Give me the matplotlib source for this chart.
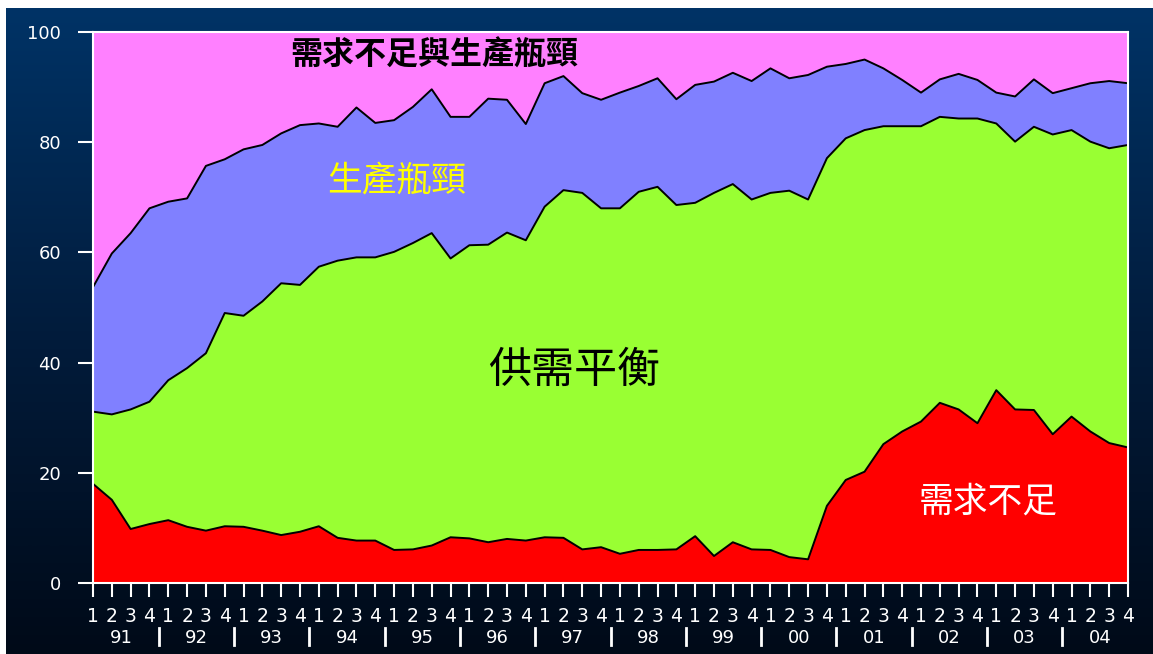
import numpy as np
import matplotlib.pyplot as plt
from matplotlib.colors import LinearSegmentedColormap

plt.rcParams['font.family'] = ['DejaVu Sans']
CJK = ['Noto Sans CJK TC', 'DejaVu Sans']

years = ['91', '92', '93', '94', '95', '96', '97', '98', '99', '00', '01', '02', '03', '04']
quarters = ['1', '2', '3', '4']

# 各季比重 (%)
demand_short = [18.0, 15.1, 9.8, 10.7, 11.4, 10.2, 9.5, 10.3, 10.2, 9.5,
                8.7, 9.3, 10.3, 8.2, 7.7, 7.7, 6.0, 6.1, 6.8, 8.3,
                8.1, 7.4, 8.0, 7.7, 8.3, 8.2, 6.1, 6.5, 5.3, 6.0,
                6.0, 6.1, 8.5, 4.9, 7.4, 6.1, 6.0, 4.7, 4.3, 14.0,
                18.7, 20.2, 25.2, 27.5, 29.3, 32.7, 31.5, 29.0, 35.0, 31.5,
                31.4, 27.0, 30.2, 27.5, 25.4, 24.6]
balanced = [13.1, 15.5, 21.7, 22.2, 25.4, 28.8, 32.2, 38.7, 38.3, 41.6,
            45.7, 44.8, 47.1, 50.3, 51.4, 51.4, 54.1, 55.6, 56.7, 50.6,
            53.2, 54.0, 55.6, 54.5, 60.0, 63.1, 64.7, 61.5, 62.7, 65.0,
            65.9, 62.5, 60.5, 65.9, 65.0, 63.5, 64.8, 66.5, 65.3, 63.1,
            62.0, 62.0, 57.7, 55.4, 53.6, 51.9, 52.8, 55.3, 48.4, 48.6,
            51.4, 54.4, 52.0, 52.6, 53.5, 54.9]
bottleneck = [22.6, 29.2, 32.0, 35.1, 32.4, 30.8, 34.0, 27.9, 30.2, 28.4,
              27.2, 29.0, 26.0, 24.3, 27.2, 24.4, 23.9, 24.7, 26.1, 25.7,
              23.3, 26.5, 24.1, 21.1, 22.4, 20.7, 18.1, 19.7, 21.0, 19.2,
              19.7, 19.2, 21.4, 20.2, 20.2, 21.5, 22.6, 20.4, 22.6, 16.6,
              13.5, 12.8, 10.5, 8.4, 6.1, 6.8, 8.1, 7.0, 5.6, 8.2,
              8.6, 7.5, 7.6, 10.6, 12.2, 11.2]
both = [46.3, 40.2, 36.5, 32.0, 30.8, 30.2, 24.3, 23.1, 21.3, 20.5,
        18.4, 16.9, 16.6, 17.2, 13.7, 16.5, 16.0, 13.6, 10.4, 15.4,
        15.4, 12.1, 12.3, 16.7, 9.3, 8.0, 11.1, 12.3, 11.0, 9.8,
        8.4, 12.2, 9.6, 9.0, 7.4, 8.9, 6.6, 8.4, 7.8, 6.3,
        5.8, 5.0, 6.6, 8.7, 11.0, 8.6, 7.6, 8.7, 11.0, 11.7,
        8.6, 11.1, 10.2, 9.3, 8.9, 9.3]

colors = ['#ff0000', '#99ff33', '#8080ff', '#ff80ff']

fig = plt.figure(figsize=(11.53, 6.54), dpi=100, facecolor='white')

# 深藍漸層背景
bg = fig.add_axes([6 / 1153, 0, 1 - 6 / 1153, 646 / 654])
cmap = LinearSegmentedColormap.from_list('bg', ['#000a18', '#021c3c', '#003366'])
bg.imshow(np.linspace(0, 1, 256).reshape(-1, 1), cmap=cmap, aspect='auto',
          origin='lower', extent=[0, 1, 0, 1])
bg.axis('off')

ax = fig.add_axes([93 / 1153, 71 / 654, 1035 / 1153, 551 / 654])
x = np.arange(len(demand_short))
layers = np.vstack([demand_short, balanced, bottleneck, both])
ax.stackplot(x, layers, colors=colors, linewidth=0)
tops = np.cumsum(layers, axis=0)
for row in tops[:3]:
    ax.plot(x, row, color='black', lw=1.4)

ax.set_xlim(0, len(x) - 1)
ax.set_ylim(0, 100)
ax.set_yticks(np.arange(0, 101, 20))
ax.set_xticks(x)
ax.set_xticklabels(quarters * len(years))
for s in ax.spines.values():
    s.set_color('white')
    s.set_linewidth(1.5)
ax.tick_params(axis='y', colors='white', length=11, width=1.5, pad=12, labelsize=13)
ax.tick_params(axis='x', colors='white', length=10, width=1.5, pad=7, labelsize=13.5)

# 年份與分隔線
trans = ax.get_xaxis_transform()
for k, yr in enumerate(years):
    ax.text(4 * k + 1.5, -0.10, yr, transform=trans, ha='center', va='center',
            color='white', fontsize=13)
    if k > 0:
        ax.plot([4 * k - 0.5, 4 * k - 0.5], [-0.081, -0.112], transform=trans,
                color='white', lw=2, clip_on=False)

ax.text(0.33, 0.957, '需求不足與生產瓶頸', transform=ax.transAxes, ha='center',
        va='center', fontsize=23, fontweight='bold', color='black', family=CJK)
ax.text(0.293, 0.73, '生產瓶頸', transform=ax.transAxes, ha='center',
        va='center', fontsize=25, color='#ffff00', family=CJK)
ax.text(0.465, 0.385, '供需平衡', transform=ax.transAxes, ha='center',
        va='center', fontsize=31, color='black', family=CJK)
ax.text(0.865, 0.147, '需求不足', transform=ax.transAxes, ha='center',
        va='center', fontsize=25, color='white', family=CJK)

fig.savefig('out.png', dpi=100, facecolor='white')
